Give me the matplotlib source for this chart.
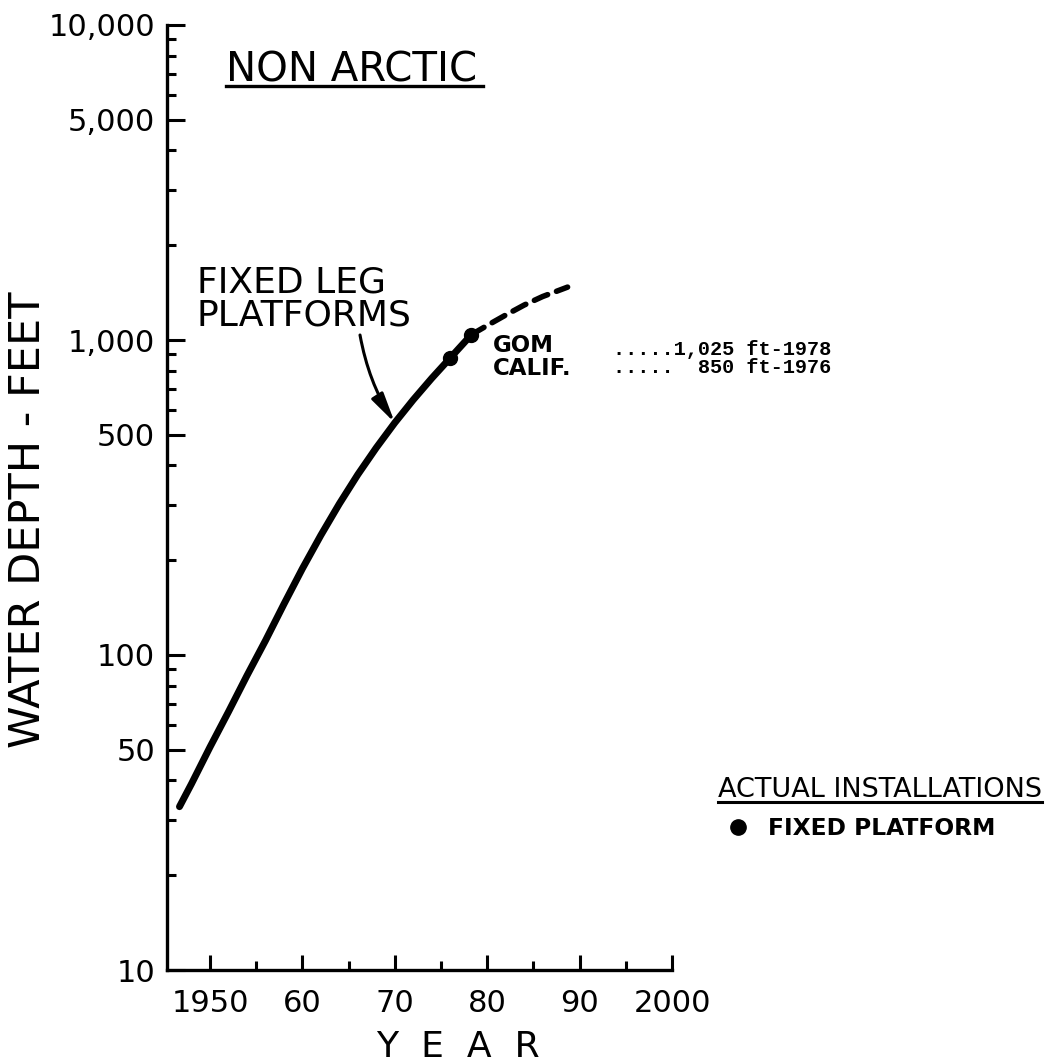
import matplotlib.pyplot as plt
from matplotlib.lines import Line2D
from matplotlib.ticker import FixedLocator, FixedFormatter, NullFormatter

W, H = 1047, 1063

# curve (year, water depth in feet)
years_solid = [1946.7, 1948, 1950, 1952, 1954, 1956, 1958, 1960, 1962, 1964,
               1966, 1968, 1970, 1972, 1974, 1976, 1978.3]
depth_solid = [33, 39, 51, 66, 86, 111, 145, 188, 240, 302,
               374, 455, 546, 646, 756, 877, 1040]
years_dashed = [1978.3, 1980, 1982, 1984, 1986, 1988.7]
depth_dashed = [1040, 1112, 1200, 1291, 1374, 1472]

# actual installations (dots as drawn on the chart)
inst_names = ['GOM', 'CALIF.']
inst_year = [1978.3, 1976]
inst_depth = [1040, 877]
inst_notes = ['.....1,025 ft-1978', '.....  850 ft-1976']

# ticks
x_major = [1950, 1960, 1970, 1980, 1990, 2000]
x_labels = ['1950', '60', '70', '80', '90', '2000']
x_minor = [1955, 1965, 1975, 1985, 1995]
y_major = [10, 50, 100, 500, 1000, 5000, 10000]
y_labels = ['10', '50', '100', '500', '1,000', '5,000', '10,000']
y_minor = [20, 30, 40, 60, 70, 80, 90, 200, 300, 400, 600, 700, 800, 900,
           2000, 3000, 4000, 6000, 7000, 8000, 9000]


def px(x, y):
    # image pixel -> figure fraction
    return x / W, 1 - y / H


fig = plt.figure(figsize=(W / 100, H / 100), dpi=100)
ax = fig.add_axes([167 / W, 1 - 970 / H, (672 - 167) / W, (970 - 25) / H])

ax.set_yscale('log')
ax.set_xlim(1945.35, 2000)
ax.set_ylim(10, 10000)

for s in ['top', 'right']:
    ax.spines[s].set_visible(False)
for s in ['left', 'bottom']:
    ax.spines[s].set_linewidth(2.4)

ax.xaxis.set_major_locator(FixedLocator(x_major))
ax.xaxis.set_major_formatter(FixedFormatter(x_labels))
ax.xaxis.set_minor_locator(FixedLocator(x_minor))
ax.yaxis.set_major_locator(FixedLocator(y_major))
ax.yaxis.set_major_formatter(FixedFormatter(y_labels))
ax.yaxis.set_minor_locator(FixedLocator(y_minor))
ax.yaxis.set_minor_formatter(NullFormatter())

ax.tick_params(axis='x', which='major', direction='in', length=11, width=2.2, pad=13.5, labelsize=22)
ax.tick_params(axis='x', which='minor', direction='in', length=6.5, width=2.2)
ax.tick_params(axis='y', which='major', direction='in', length=13, width=2.2, pad=8.5, labelsize=22)
ax.tick_params(axis='y', which='minor', direction='in', length=6.5, width=2.2)

# trend line
ax.plot(years_solid, depth_solid, color='k', lw=5, solid_capstyle='round', solid_joinstyle='round')
ax.plot(years_dashed, depth_dashed, color='k', lw=4, dashes=(2.6, 1.7), dash_capstyle='round')
ax.plot(inst_year, inst_depth, 'o', color='k', ms=10)

# arrow to the curve
ax.annotate('', xy=(1970.0, 546), xytext=px(360, 335), textcoords='figure fraction',
            arrowprops=dict(arrowstyle='-|>,head_length=0.9,head_width=0.2',
                            connectionstyle='arc3,rad=0.1', color='k', lw=2.2,
                            mutation_scale=20, shrinkA=0, shrinkB=0))

# texts
fig.text(*px(226, 82), 'NON ARCTIC', fontsize=29, va='baseline', ha='left')
fig.add_artist(Line2D([226 / W, 483 / W], [1 - 86 / H] * 2, color='k', lw=2.4))

fig.text(*px(197, 293), 'FIXED LEG', fontsize=26, va='baseline', ha='left')
fig.text(*px(197, 325), 'PLATFORMS', fontsize=26, va='baseline', ha='left')

for i, (name, note) in enumerate(zip(inst_names, inst_notes)):
    fig.text(*px(493, 352 + 23 * i), name, fontsize=16.5, fontweight='bold',
             va='baseline', ha='left')
    fig.text(*px(613, 355 + 18 * i), note, fontsize=14.6, fontweight='bold',
             family='Liberation Mono', va='baseline', ha='left')

fig.text(*px(718, 797), 'ACTUAL INSTALLATIONS', fontsize=19.5, va='baseline', ha='left')
fig.add_artist(Line2D([718 / W, 1042 / W], [1 - 802 / H] * 2, color='k', lw=2.2))
fig.add_artist(Line2D([738 / W], [1 - 827 / H], marker='o', ms=11, color='k',
                      transform=fig.transFigure))
fig.text(*px(768, 835), 'FIXED PLATFORM', fontsize=16.8, fontweight='bold',
         va='baseline', ha='left')

fig.text(*px(458, 1057), 'Y  E  A  R', fontsize=26, va='baseline', ha='center')
fig.text(*px(28, 520), 'WATER DEPTH - FEET', fontsize=31, rotation=90,
         va='center', ha='center')

fig.savefig('out.png', dpi=100)
